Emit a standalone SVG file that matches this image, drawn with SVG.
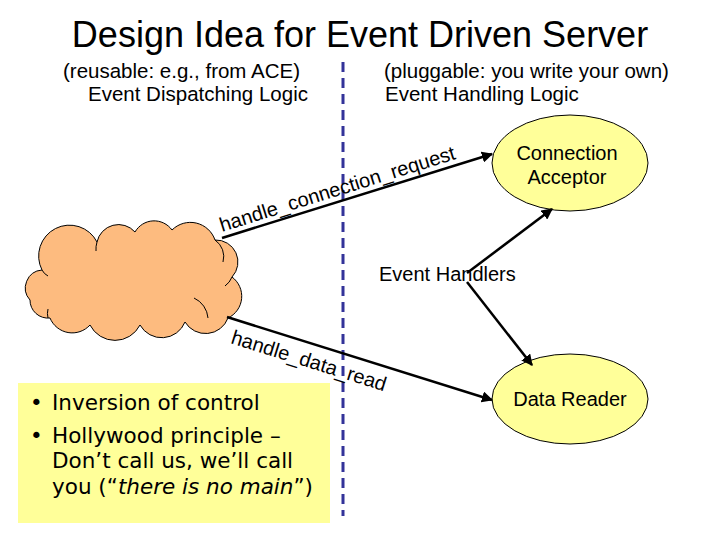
<svg xmlns="http://www.w3.org/2000/svg" width="720" height="540" viewBox="0 0 720 540">
<style>
.sans{font-family:"Liberation Sans",Arial,sans-serif;fill:#000}
.tah{font-family:"DejaVu Sans","Liberation Sans",sans-serif;fill:#000}
.conn{stroke:#000;stroke-width:2.5;fill:none}
.node{fill:#ffff99;stroke:#000;stroke-width:1}
</style>
<defs>
<marker id="ah" viewBox="0 0 10 10" refX="9" refY="5" markerWidth="4.5" markerHeight="4.5" orient="auto" markerUnits="strokeWidth">
<path d="M0,0 L10,5 L0,10 z" fill="#000"/>
</marker>
</defs>
<rect width="720" height="540" fill="#fff"/>
<text class="sans" x="360" y="47" font-size="36" text-anchor="middle">Design Idea for Event Driven Server</text>
<text class="sans" x="63" y="78" font-size="20.5">(reusable: e.g., from ACE)</text>
<text class="sans" x="88" y="101" font-size="20.5">Event Dispatching Logic</text>
<text class="sans" x="384" y="78" font-size="20.5">(pluggable: you write your own)</text>
<text class="sans" x="385" y="101" font-size="20.5">Event Handling Logic</text>

<g id="divider">
<line x1="343" y1="62" x2="343" y2="516" stroke="#333399" stroke-width="3" stroke-dasharray="10,6"/>
</g>

<g id="dispatcher">
<path d="M42,270 A30,30 0 0 1 97,242 A22,22 0 0 1 135,232 A22,22 0 0 1 172,230 A26,26 0 0 1 215,240 A22,22 0 0 1 232,277 A24,24 0 0 1 228,318 A24,24 0 0 1 185,322 A25,25 0 0 1 140,325 A28,28 0 0 1 90,325 A24,24 0 0 1 50,318 A18,18 0 0 1 30,300 A18,18 0 0 1 42,270 Z" fill="#fdbb7f" stroke="#000" stroke-width="1"/>
<path d="M42,270 A14,14 0 0 0 48,276 M97,242 A24,24 0 0 0 96,251 M215,240 A20,20 0 0 1 223,262 M232,277 A20,20 0 0 1 225,286 M194,298 A24,24 0 0 1 208,318 M48,309 A18,18 0 0 0 48,318" fill="none" stroke="#000" stroke-width="1"/>
</g>

<g id="bullets">
<rect x="18" y="383" width="312" height="140" fill="#ffff99"/>
<text class="tah" font-size="21.5">
<tspan x="30" y="410">•</tspan><tspan x="52" y="410">Inversion of control</tspan>
<tspan x="30" y="443">•</tspan><tspan x="52" y="443">Hollywood principle –</tspan>
<tspan x="52" y="468">Don’t call us, we’ll call</tspan>
<tspan x="52" y="494">you (“<tspan font-style="italic">there is no main</tspan>”)</tspan>
</text>
</g>

<g id="acceptor">
<ellipse class="node" cx="570" cy="163" rx="78" ry="48"/>
<text class="sans" x="567" y="160" font-size="20" text-anchor="middle">Connection</text>
<text class="sans" x="567" y="184" font-size="20" text-anchor="middle">Acceptor</text>
</g>

<g id="reader">
<ellipse class="node" cx="570" cy="399" rx="78" ry="45"/>
<text class="sans" x="570" y="406" font-size="20" text-anchor="middle">Data Reader</text>
</g>

<g id="handlers-label">
<text class="sans" x="379" y="281" font-size="20">Event Handlers</text>
</g>

<g id="connectors">
<line class="conn" x1="222" y1="238" x2="492" y2="154" marker-end="url(#ah)"/>
<line class="conn" x1="227" y1="317" x2="492" y2="400" marker-end="url(#ah)"/>
<line class="conn" x1="467" y1="273" x2="552" y2="209" marker-end="url(#ah)"/>
<line class="conn" x1="467" y1="282" x2="532" y2="365" marker-end="url(#ah)"/>
<text class="sans" font-size="20" transform="translate(222,232) rotate(-17.3)">handle_connection_request</text>
<text class="sans" font-size="20" transform="translate(230,343) rotate(17.4)">handle_data_read</text>
</g>
</svg>
